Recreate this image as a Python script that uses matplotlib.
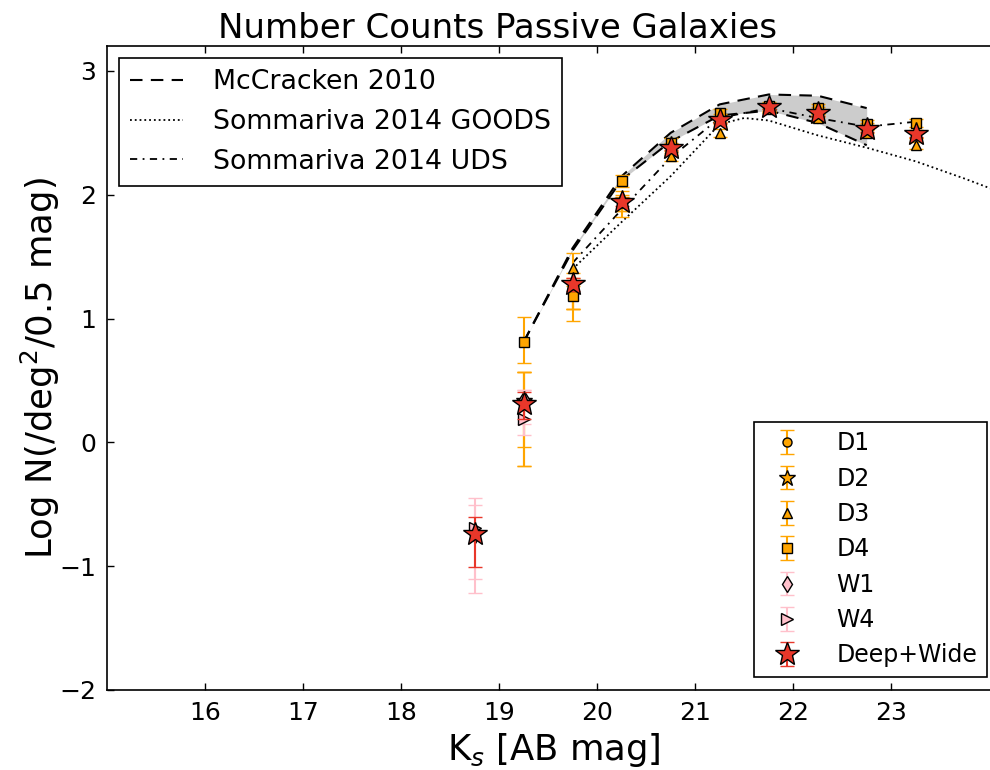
import matplotlib
matplotlib.use("Agg")
import matplotlib.pyplot as plt
import numpy as np

plt.rcParams['font.family'] = ['DejaVu Sans']
plt.rcParams['mathtext.fontset'] = 'dejavusans'

# ---------------- data ----------------
# McCracken 2010 band (upper / lower)
mc_x = [19.25, 19.75, 20.25, 20.75, 21.25, 21.75, 22.25, 22.75]
mc_up = [0.81, 1.57, 2.15, 2.50, 2.73, 2.81, 2.80, 2.70]
mc_lo = [0.81, 1.55, 2.12, 2.43, 2.64, 2.68, 2.58, 2.40]

# Sommariva 2014 GOODS (dotted)
goods_x = [19.75, 20.25, 20.75, 21.25, 21.5, 21.75, 22.25, 22.75, 23.25, 23.75, 24.25]
goods_y = [1.40, 1.78, 2.15, 2.57, 2.62, 2.60, 2.48, 2.38, 2.27, 2.13, 1.98]

# Sommariva 2014 UDS (dash-dot)
uds_x = [19.75, 20.25, 20.75, 21.25, 21.75, 22.25, 22.75, 23.25]
uds_y = [1.45, 1.88, 2.30, 2.62, 2.70, 2.62, 2.55, 2.59]

# Deep fields
d_x = [19.25, 19.75, 20.25, 20.75, 21.25, 21.75, 22.25, 22.75, 23.25]
d1_y = [0.30, 1.23, 1.93, 2.36, 2.62, 2.70, 2.68, 2.55, 2.49]
d1_eu = [0.27, 0.10, 0.05, 0.04, 0.03, 0.03, 0.03, 0.03, 0.03]
d1_el = [0.49, 0.15, 0.06, 0.04, 0.03, 0.03, 0.03, 0.03, 0.03]
d2_y = [0.33, 1.27, 1.95, 2.38, 2.60, 2.71, 2.66, 2.53, 2.49]
d2_eu = [0.24, 0.10, 0.05, 0.04, 0.03, 0.03, 0.03, 0.03, 0.03]
d2_el = [0.52, 0.19, 0.08, 0.04, 0.03, 0.03, 0.03, 0.03, 0.03]
d3_y = [0.36, 1.41, 1.98, 2.31, 2.50, 2.69, 2.62, 2.50, 2.40]
d3_eu = [0.21, 0.12, 0.05, 0.04, 0.03, 0.03, 0.03, 0.03, 0.03]
d3_el = [0.40, 0.33, 0.16, 0.04, 0.03, 0.03, 0.03, 0.03, 0.03]
d4_y = [0.81, 1.18, 2.11, 2.42, 2.66, 2.72, 2.70, 2.57, 2.58]
d4_eu = [0.20, 0.08, 0.05, 0.04, 0.03, 0.03, 0.03, 0.03, 0.03]
d4_el = [0.17, 0.20, 0.05, 0.04, 0.03, 0.03, 0.03, 0.03, 0.03]

# Wide fields
w_x = [18.75, 19.25]
w1_y = [-0.75, 0.35]
w1_eu = [0.24, 0.07]
w1_el = [0.47, 0.20]
w4_y = [-0.69, 0.19]
w4_eu = [0.24, 0.23]
w4_el = [0.41, 0.13]

# Combined
dw_x = [18.75, 19.25, 19.75, 20.25, 20.75, 21.25, 21.75, 22.25, 22.75, 23.25]
dw_y = [-0.74, 0.31, 1.28, 1.94, 2.38, 2.60, 2.71, 2.66, 2.53, 2.49]
dw_eu = [0.14, 0.10, 0.05, 0.03, 0.02, 0.02, 0.02, 0.02, 0.02, 0.02]
dw_el = [0.27, 0.12, 0.06, 0.03, 0.02, 0.02, 0.02, 0.02, 0.02, 0.02]

# ---------------- plot ----------------
fig = plt.figure(figsize=(9.9, 7.7), dpi=100)
# axes extend slightly past the right edge of the picture (as in the reference)
ax = fig.add_axes([0.1081, 0.104, 0.902, 0.836])

ax.fill_between(mc_x, mc_lo, mc_up, color='0.8', lw=0, zorder=1)
l_mc, = ax.plot(mc_x, mc_up, 'k--', lw=1.5, dashes=(6, 4), zorder=2, label='McCracken 2010')
ax.plot(mc_x, mc_lo, 'k--', lw=1.5, dashes=(6, 4), zorder=2)
l_g, = ax.plot(goods_x, goods_y, 'k:', lw=1.3, zorder=2, label='Sommariva 2014 GOODS')
l_u, = ax.plot(uds_x, uds_y, 'k-.', lw=1.3, dashes=(4, 3, 1, 3), zorder=2, label='Sommariva 2014 UDS')

orange = 'orange'
pink = 'pink'
red = '#E8372A'

def eb(x, y, el, eu, fmt, color, ms, label, z):
    return ax.errorbar(x, y, yerr=[el, eu], fmt=fmt, color=color, mfc=color,
                       mec='k', mew=1.0, ms=ms, ecolor=color, elinewidth=1.5,
                       capsize=5, capthick=1.5, label=label, zorder=z)

h1 = eb(d_x, d1_y, d1_el, d1_eu, 'o', orange, 6.5, 'D1', 3)
h2 = eb(d_x, d2_y, d2_el, d2_eu, '*', orange, 12, 'D2', 3)
h3 = eb(d_x, d3_y, d3_el, d3_eu, '^', orange, 6.5, 'D3', 3)
h4 = eb(d_x, d4_y, d4_el, d4_eu, 's', orange, 6.5, 'D4', 3)
h5 = eb(w_x, w1_y, w1_el, w1_eu, 'd', pink, 8, 'W1', 4)
h6 = eb(w_x, w4_y, w4_el, w4_eu, '>', pink, 9, 'W4', 4)
h7 = eb(dw_x, dw_y, dw_el, dw_eu, '*', red, 18, 'Deep+Wide', 5)

ax.set_xlim(15, 24.11)
ax.set_ylim(-2, 3.2)
ax.set_xticks([16, 17, 18, 19, 20, 21, 22, 23])
ax.set_yticks([-2, -1, 0, 1, 2, 3])
ax.tick_params(direction='in', top=True, right=True, length=5, width=1,
               labelsize=18, pad=8)
for s in ax.spines.values():
    s.set_linewidth(1.2)

fig.text(497 / 990, 1 - 38 / 770, 'Number Counts Passive Galaxies',
         fontsize=24.5, ha='center', va='baseline')
ax.set_xlabel('K$_s$ [AB mag]', fontsize=25.5)
ax.set_ylabel('Log N(/deg$^2$/0.5 mag)', fontsize=25.5, labelpad=-2)

leg1 = ax.legend(handles=[l_mc, l_g, l_u], loc='upper left', fontsize=19.3,
                 frameon=True, fancybox=False, edgecolor='k', framealpha=1,
                 handlelength=2.0, borderaxespad=0.45, labelspacing=0.52,
                 handletextpad=1.1, borderpad=0.4)
leg1.get_frame().set_linewidth(1.2)
ax.add_artist(leg1)
leg2 = ax.legend(handles=[h1, h2, h3, h4, h5, h6, h7], loc='lower right',
                 fontsize=17, frameon=True, fancybox=False, edgecolor='k',
                 framealpha=1, numpoints=1, labelspacing=0.48,
                 handletextpad=1.1, borderaxespad=0.55, borderpad=0.4)
leg2.get_frame().set_linewidth(1.2)

fig.savefig('out.png', dpi=100)
